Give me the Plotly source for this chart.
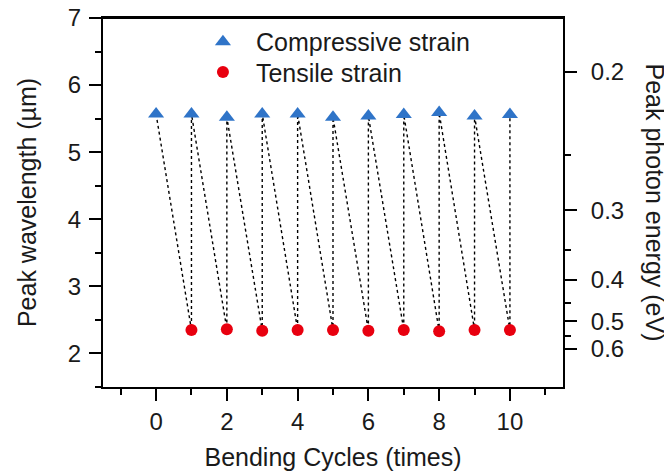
import plotly.graph_objects as go

# ---- data ----
cycles_c = [0, 1, 2, 3, 4, 5, 6, 7, 8, 9, 10]
compressive = [5.57, 5.57, 5.52, 5.57, 5.57, 5.52, 5.54, 5.56, 5.59, 5.54, 5.56]
cycles_t = [1, 2, 3, 4, 5, 6, 7, 8, 9, 10]
tensile = [2.35, 2.36, 2.34, 2.35, 2.35, 2.34, 2.35, 2.33, 2.35, 2.35]
x_ticks = [0, 2, 4, 6, 8, 10]
y_ticks = [2, 3, 4, 5, 6, 7]
energy_ticks = [0.2, 0.3, 0.4, 0.5, 0.6]
energy_minor = [0.25, 0.35, 0.45, 0.55]
HC = 1.24  # eV*um, wavelength <-> photon energy

FONT = "Liberation Sans, Arial, sans-serif"
TXT = "#1a1a1a"
TICK_SIZE = 24
TITLE_SIZE = 25

# zigzag path C0 -> T1 -> C1 -> T2 -> ... -> T10 -> C10
path_x, path_y = [cycles_c[0]], [compressive[0]]
for i, (xt, yt) in enumerate(zip(cycles_t, tensile)):
    path_x += [xt, cycles_c[i + 1]]
    path_y += [yt, compressive[i + 1]]

fig = go.Figure()
fig.add_trace(go.Scatter(x=path_x, y=path_y, mode="lines",
                         line=dict(color="black", width=1.4, dash="dot"),
                         showlegend=False, hoverinfo="skip"))
fig.add_trace(go.Scatter(x=cycles_c, y=compressive, mode="markers",
                         name="Compressive strain", legend="legend",
                         marker=dict(symbol="triangle-up", size=14, color="#2F74C8")))
fig.add_trace(go.Scatter(x=cycles_t, y=tensile, mode="markers",
                         name="Tensile strain", legend="legend2",
                         marker=dict(symbol="circle", size=12, color="#E8000F")))
# invisible trace to activate the right axis
fig.add_trace(go.Scatter(x=[cycles_c[0]], y=[compressive[0]], yaxis="y2",
                         mode="markers", marker=dict(opacity=0), showlegend=False,
                         hoverinfo="skip"))

axis_common = dict(showline=True, linecolor="black", linewidth=2,
                   ticks="outside", tickcolor="black", tickwidth=2, ticklen=12,
                   showgrid=False, zeroline=False, automargin=False,
                   ticklabeloverflow="allow",
                   tickfont=dict(family=FONT, size=TICK_SIZE, color=TXT))

leg_common = dict(xanchor="left", yanchor="middle", bgcolor="rgba(0,0,0,0)",
                  font=dict(family=FONT, size=TITLE_SIZE, color=TXT), itemwidth=56)

fig.update_layout(
    width=672, height=476,
    margin=dict(l=95, r=117, t=10, b=97, autoexpand=False),
    paper_bgcolor="white", plot_bgcolor="white",
    font=dict(family=FONT, size=TICK_SIZE, color=TXT),
    showlegend=True,
    legend=dict(x=0.189, y=0.935, **leg_common),
    legend2=dict(x=0.189, y=0.853, **leg_common),
    xaxis=dict(range=[-1.5, 11.5], tickmode="array", tickvals=x_ticks,
               mirror=True,
               minor=dict(dtick=1, tick0=0, ticks="outside", ticklen=6,
                          tickwidth=2, tickcolor="black"),
               title=dict(text="Bending Cycles (times)",
                          font=dict(family=FONT, size=TITLE_SIZE, color=TXT)),
               **axis_common),
    yaxis=dict(range=[1.5, 7], tickmode="array", tickvals=y_ticks,
               ticklabelstandoff=3,
               minor=dict(dtick=0.5, tick0=0, ticks="outside", ticklen=6,
                          tickwidth=2, tickcolor="black"),
               title=dict(text="Peak wavelength (µm)", standoff=24,
                          font=dict(family=FONT, size=TITLE_SIZE, color=TXT)),
               **axis_common),
    yaxis2=dict(range=[1.5, 7], overlaying="y", side="right",
                tickmode="array", tickvals=[HC / e for e in energy_ticks],
                ticktext=[f"{e:.1f}" for e in energy_ticks],
                ticklabelstandoff=9,
                minor=dict(tickmode="array", tickvals=[HC / e for e in energy_minor],
                           ticks="outside", ticklen=6, tickwidth=2, tickcolor="black"),
                **axis_common),
)

# top frame line
fig.add_shape(type="line", xref="paper", yref="paper", x0=0, x1=1, y0=1, y1=1,
              line=dict(color="black", width=2), layer="above")

fig.add_annotation(text="Peak photon energy (eV)", textangle=90,
                   xref="paper", yref="paper", x=1.2, y=0.5,
                   xanchor="center", yanchor="middle", showarrow=False,
                   font=dict(family=FONT, size=TITLE_SIZE, color=TXT))

fig.write_html("out.html")
